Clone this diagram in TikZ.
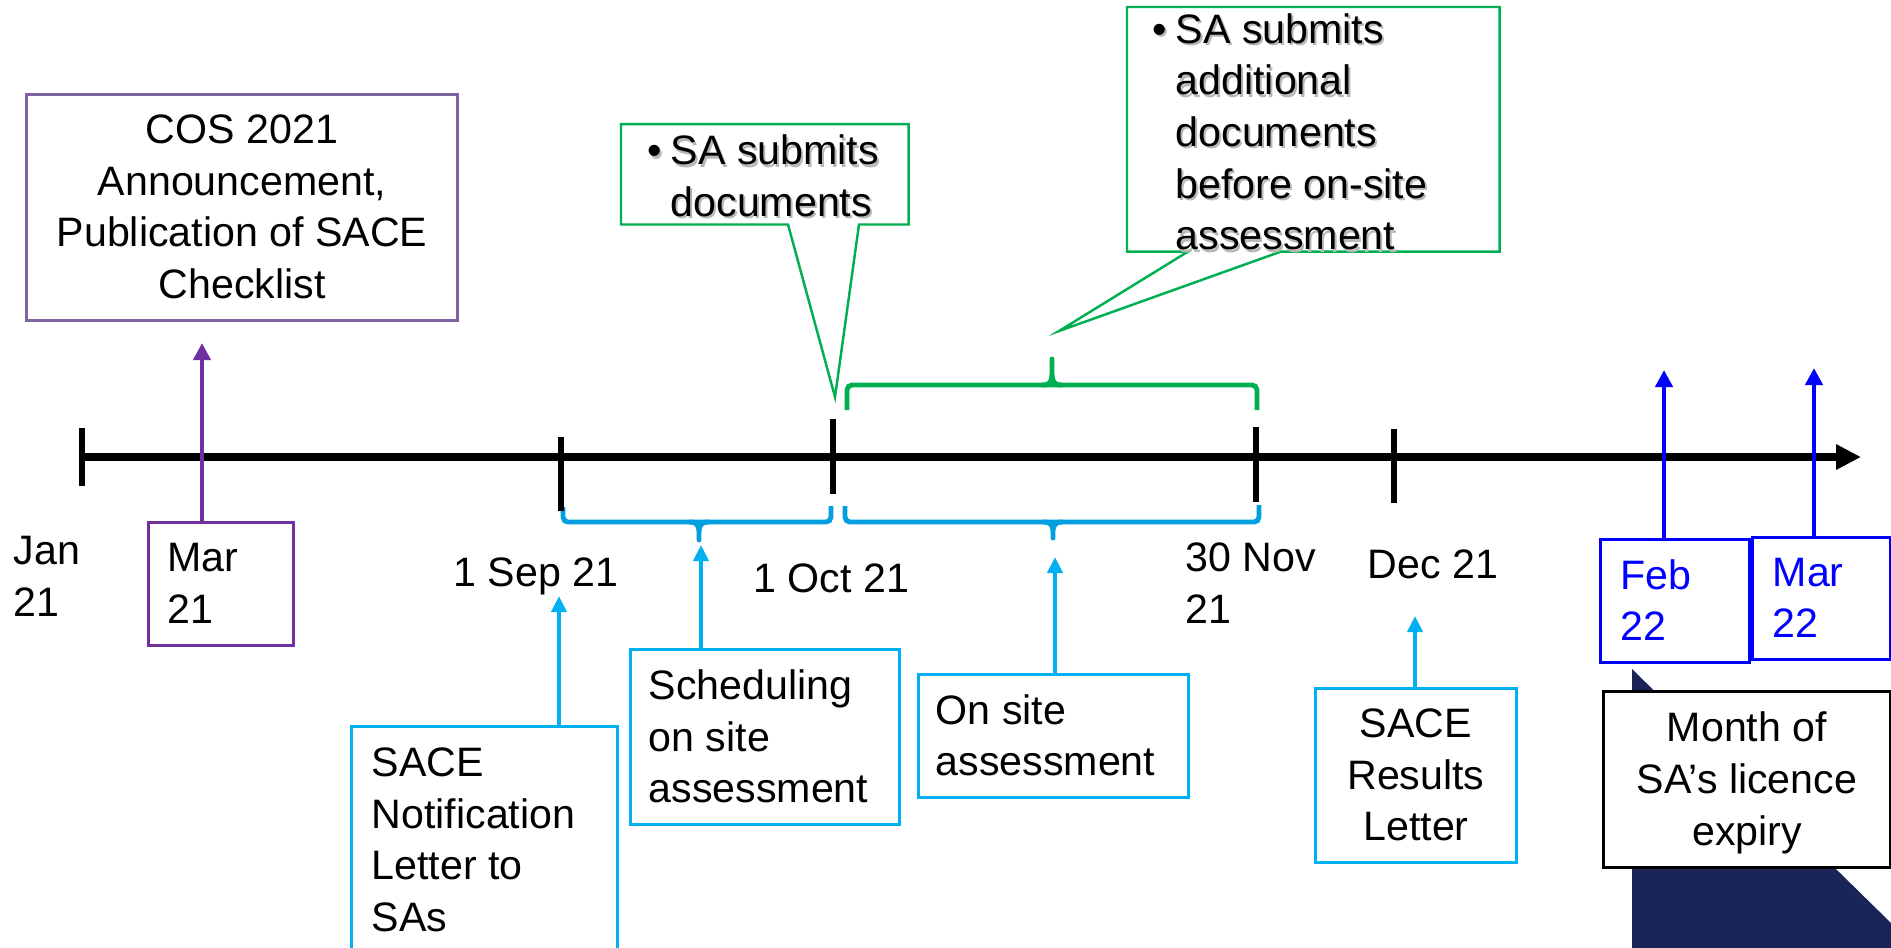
\documentclass[tikz,border=0pt]{standalone}
\usepackage{fontspec}
\setmainfont{Liberation Sans}
\usetikzlibrary{arrows.meta,calc}

\definecolor{cosPurple}{HTML}{8064A2}
\definecolor{markPurple}{HTML}{7030A0}
\definecolor{skyBlue}{HTML}{00B0F0}
\definecolor{braceBlue}{HTML}{009FDF}
\definecolor{calloutGreen}{HTML}{00B050}
\definecolor{pureBlue}{HTML}{0000FF}
\definecolor{deepNavy}{HTML}{1B2456}

\newcommand{\bul}{\makebox[0.23cm][l]{\textbullet}}
\newcommand{\ind}{\hspace*{0.23cm}}

\begin{document}
\begin{tikzpicture}[x=0.01cm, y=-0.01cm,
  lbl/.style={font=\fontsize{11.7}{14.7}\selectfont, inner sep=0pt, yshift=-0.07cm,
    execute at begin node=\strut, execute at end node=\strut},
  shadowlbl/.style={lbl, text=black!28},
  box/.style={draw, fill=white, line width=0.8pt, inner sep=0pt, anchor=north west},
  callout/.style={draw=calloutGreen, fill=white, line width=0.7pt, line join=miter},
  tick/.style={line width=1.7pt},
  bracket/.style={line width=1.4pt, rounded corners=0.05cm},
  nub/.style={line width=1.4pt, line cap=round},
  uparrow/.style={line width=1.1pt, -{Triangle[length=0.16cm, width=0.15cm]}},
  bigarrow/.style={line width=1.4pt, -{Triangle[length=0.17cm, width=0.17cm]}}
]
\useasboundingbox (0,0) rectangle (1891,947);

% dark corner panel behind the licence box
\fill[deepNavy] (1632,669) -- (1891,923) -- (1891,960) -- (1632,960) -- cycle;

% ---------- boxes ----------
\node[box, draw=cosPurple, minimum width=4.31cm, minimum height=2.26cm] (cos) at (25,93) {};
\node[box, draw=markPurple, minimum width=1.45cm, minimum height=1.23cm] (mar) at (147,521) {};
\node[box, draw=skyBlue, minimum width=2.66cm, minimum height=2.28cm] (notif) at (350,725) {};
\node[box, draw=skyBlue, minimum width=2.69cm, minimum height=1.75cm] (sched) at (629,648) {};
\node[box, draw=skyBlue, minimum width=2.70cm, minimum height=1.23cm] (onsite) at (917,673) {};
\node[box, draw=skyBlue, minimum width=2.01cm, minimum height=1.74cm] (results) at (1314,687) {};
\node[box, draw=pureBlue, minimum width=1.49cm, minimum height=1.23cm] (feb) at (1599,538) {};
\node[box, draw=pureBlue, minimum width=1.38cm, minimum height=1.22cm] (marb) at (1751,536) {};
\node[box, draw=black, minimum width=2.87cm, minimum height=1.76cm] (month) at (1602,690) {};

% ---------- callouts ----------
\node[inner sep=0pt, minimum width=2.86cm, minimum height=0.99cm, anchor=north west] (c1) at (621,124) {};
\coordinate (c1tip) at (835,397);
\draw[callout] (c1.north west) -- (c1.north east) -- (c1.south east)
  -- ($(c1.south west)+(238,0)$) -- (c1tip) -- ($(c1.south west)+(167,0)$)
  -- (c1.south west) -- cycle;

\node[inner sep=0pt, minimum width=3.71cm, minimum height=2.43cm, anchor=north west] (c2) at (1127,7) {};
\coordinate (c2tip) at (1059,331);
\draw[callout] (c2.north west) -- (c2.north east) -- (c2.south east)
  -- ($(c2.south west)+(154,0)$) -- (c2tip) -- ($(c2.south west)+(61,0)$)
  -- (c2.south west) -- cycle;

% ---------- brackets ----------
\draw[bracket, braceBlue] (563,507) -- (563,522) -- (831,522) -- (831,506);
\draw[nub, braceBlue] (690,522) .. controls (697,522) and (699,526) .. (699,532) -- (699,540)
  (708,522) .. controls (701,522) and (699,526) .. (699,532);
\draw[bracket, braceBlue] (845,506) -- (845,522) -- (1259,522) -- (1259,505);
\draw[nub, braceBlue] (1044,522) .. controls (1051,522) and (1053,526) .. (1053,531) -- (1053,538)
  (1062,522) .. controls (1055,522) and (1053,526) .. (1053,531);
\draw[bracket, calloutGreen] (847,410) -- (847,385) -- (1257,385) -- (1257,410);
\draw[nub, calloutGreen] (1043,385) .. controls (1050,385) and (1052,381) .. (1052,374) -- (1052,359)
  (1061,385) .. controls (1054,385) and (1052,381) .. (1052,374);

% ---------- timeline ----------
\draw[tick] (82,428) -- (82,486);
\draw[tick] (561,437) -- (561,511);
\draw[tick] (833,419) -- (833,494);
\draw[tick] (1256,427) -- (1256,502);
\draw[tick] (1394,429) -- (1394,503);
\coordinate (tlstart) at (82,457);
\coordinate (tlend) at (1861,457);
\draw[line width=2.4pt, -{Triangle[length=0.25cm, width=0.24cm]}] (tlstart) -- (tlend);

% ---------- arrows ----------
\coordinate (pTip) at (202,343);
\draw[bigarrow, markPurple] (pTip |- mar.north) -- (pTip);
\coordinate (nTip) at (559,596);
\draw[uparrow, skyBlue] (nTip |- notif.north) -- (nTip);
\coordinate (sTip) at (701,545);
\draw[uparrow, skyBlue] (sTip |- sched.north) -- (sTip);
\coordinate (oTip) at (1055,557);
\draw[uparrow, skyBlue] (oTip |- onsite.north) -- (oTip);
\coordinate (rTip) at (1415,616);
\draw[uparrow, skyBlue] (rTip |- results.north) -- (rTip);
\coordinate (fTip) at (1664,370);
\draw[bigarrow, pureBlue] (fTip |- feb.north) -- (fTip);
\coordinate (mTip) at (1814,368);
\draw[bigarrow, pureBlue] (mTip |- marb.north) -- (mTip);

% ---------- texts ----------
\node[lbl, align=center] (cosT) at (cos.center) {COS 2021\\Announcement,\\Publication of SACE\\Checklist};
\node[lbl, align=left, anchor=west] (marT) at ([xshift=0.2cm]mar.west) {Mar\\21};
\node[lbl, align=left, anchor=west] (janT) at (13,577) {Jan\\21};
\node[lbl, anchor=west] (sepT) at (453,569) {1 Sep 21};
\node[lbl, anchor=west] (octT) at (753,575) {1 Oct 21};
\node[lbl, align=left, anchor=west] (novT) at (1185,584) {30 Nov\\21};
\node[lbl, anchor=west] (decT) at (1367,561) {Dec 21};
\node[lbl, align=left, anchor=west] (notifT) at ([xshift=0.21cm]notif.west) {SACE\\Notification\\Letter to\\SAs};
\node[lbl, align=left, anchor=west] (schedT) at ([xshift=0.19cm]sched.west) {Scheduling\\on site\\assessment};
\node[lbl, align=left, anchor=west] (onsiteT) at ([xshift=0.18cm]onsite.west) {On site\\assessment};
\node[lbl, align=center] (resultsT) at (results.center) {SACE\\Results\\Letter};
\node[lbl, align=left, anchor=west, text=pureBlue] (febT) at ([xshift=0.21cm]feb.west) {Feb\\22};
\node[lbl, align=left, anchor=west, text=pureBlue] (marbT) at ([xshift=0.21cm]marb.west) {Mar\\22};
\node[lbl, align=center] (monthT) at (month.center) {Month of\\SA’s licence\\expiry};

% callout texts with their soft shadow
\node[shadowlbl, align=left, anchor=west] (c1S) at ([xshift=0.28cm, yshift=-0.045cm]c1.west) {\bul SA submits\\\ind documents};
\node[lbl, align=left, anchor=west] (c1T) at ([xshift=0.26cm, yshift=-0.02cm]c1.west) {\bul SA submits\\\ind documents};
\node[shadowlbl, align=left, anchor=west] (c2S) at ([xshift=0.27cm, yshift=-0.055cm]c2.west) {\bul SA submits\\\ind additional\\\ind documents\\\ind before on-site\\\ind assessment};
\node[lbl, align=left, anchor=west] (c2T) at ([xshift=0.25cm, yshift=-0.03cm]c2.west) {\bul SA submits\\\ind additional\\\ind documents\\\ind before on-site\\\ind assessment};
\end{tikzpicture}
\end{document}
